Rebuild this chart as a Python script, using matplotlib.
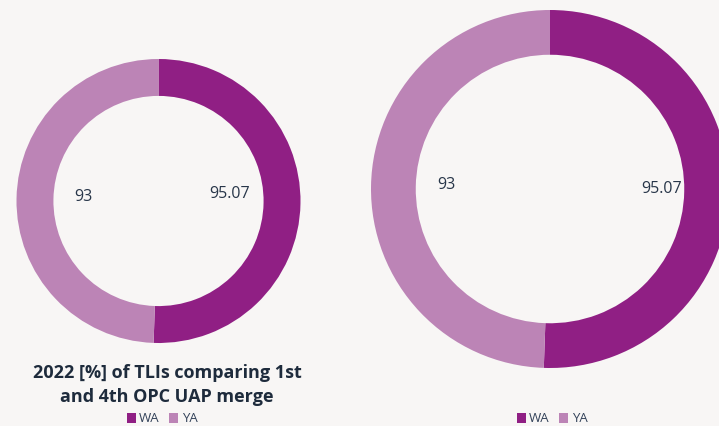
import matplotlib
matplotlib.use("Agg")
import matplotlib.pyplot as plt
from matplotlib.patches import Patch

categories = ["WA", "YA"]
values = [95.07, 93]
value_labels = ["95.07", "93"]
title = "2022 [%] of TLIs comparing 1st\nand 4th OPC UAP merge"

colors = ["#901F84", "#BC84B6"]
bg = "#F8F6F5"
text_col = "#283649"

W, H = 719, 426
fig = plt.figure(figsize=(W / 100, H / 100), dpi=100)
fig.patch.set_facecolor(bg)
plt.rcParams['font.family'] = ['Open Sans', 'DejaVu Sans']


def donut(cx, cy, r, width_frac, label_pos):
    # cx, cy in pixels from top-left; r outer radius pixels
    ax = fig.add_axes([(cx - r) / W, (H - cy - r) / H, 2 * r / W, 2 * r / H])
    ax.set_facecolor("none")
    ax.pie(values, colors=colors, startangle=90, counterclock=False,
           radius=1, wedgeprops=dict(width=width_frac, edgecolor="none"))
    ax.set_xlim(-1, 1)
    ax.set_ylim(-1, 1)
    ax.set_aspect("equal")
    ax.axis("off")
    for lab, (x, y) in zip(value_labels, label_pos):
        ax.text(x, y, lab, ha="center", va="center", fontsize=11.5,
                color=text_col)
    return ax


donut(158.5, 201, 142, 0.26, [(0.50, 0.05), (-0.53, 0.03)])
donut(550, 189, 179, 0.25, [(0.626, 0.0), (-0.58, 0.02)])

fig.text(167 / W, 1 - 385 / H, title, ha="center", va="center", fontsize=13,
         fontweight="bold", color="#1E2B3C", linespacing=1.5)

handles = [Patch(facecolor=c, edgecolor="none") for c in colors]
for x in [162, 552]:
    fig.legend(handles, categories, loc="center", bbox_to_anchor=(x / W, 1 - 419 / H),
               ncol=2, frameon=False, fontsize=9.5, handlelength=0.7, handleheight=0.7,
               handletextpad=0.25, columnspacing=0.7, labelcolor="#34435A",
               borderpad=0.2)

fig.savefig("out.png", dpi=100, facecolor=bg)
